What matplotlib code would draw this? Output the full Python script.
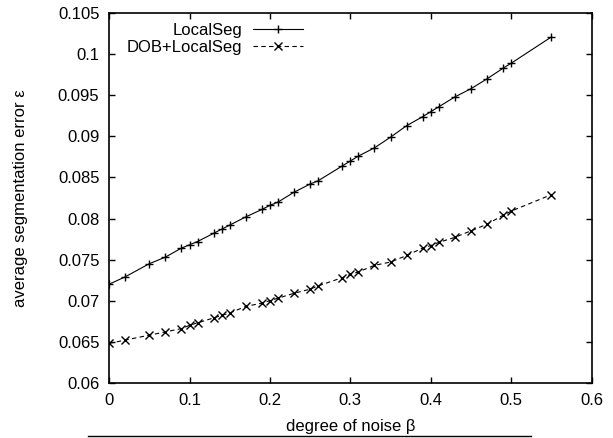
import matplotlib
matplotlib.use("Agg")
import matplotlib.pyplot as plt
from matplotlib.lines import Line2D

plt.rcParams["font.family"] = ["Liberation Sans", "DejaVu Sans"]

beta = [0.0, 0.02, 0.05, 0.07, 0.09, 0.10, 0.11, 0.13, 0.14, 0.15, 0.17,
        0.19, 0.20, 0.21, 0.23, 0.25, 0.26, 0.29, 0.30, 0.31, 0.33, 0.35,
        0.37, 0.39, 0.40, 0.41, 0.43, 0.45, 0.47, 0.49, 0.50, 0.55]
local_seg = [0.0720, 0.0729, 0.0745, 0.0753, 0.0764, 0.0768, 0.0772, 0.0782,
             0.0787, 0.0792, 0.0802, 0.0811, 0.0816, 0.0820, 0.0832, 0.0842,
             0.0846, 0.0864, 0.0870, 0.0876, 0.0886, 0.0899, 0.0913, 0.0924,
             0.0930, 0.0936, 0.0948, 0.0958, 0.0970, 0.0983, 0.0989, 0.1021]
dob_local_seg = [0.0648, 0.0652, 0.0658, 0.0662, 0.0666, 0.0670, 0.0673,
                 0.0679, 0.0682, 0.0685, 0.0693, 0.0697, 0.0700, 0.0703,
                 0.0709, 0.0714, 0.0718, 0.0728, 0.0732, 0.0735, 0.0743,
                 0.0747, 0.0755, 0.0764, 0.0767, 0.0771, 0.0777, 0.0785,
                 0.0793, 0.0804, 0.0809, 0.0829]

xticks = [0, 0.1, 0.2, 0.3, 0.4, 0.5, 0.6]
xtick_labels = ["0", "0.1", "0.2", "0.3", "0.4", "0.5", "0.6"]
yticks = [0.06, 0.065, 0.07, 0.075, 0.08, 0.085, 0.09, 0.095, 0.1, 0.105]
ytick_labels = ["0.06", "0.065", "0.07", "0.075", "0.08", "0.085", "0.09",
                "0.095", "0.1", "0.105"]

FS = 12

fig = plt.figure(figsize=(6.13, 4.38), dpi=100)
ax = fig.add_axes([0.178, 0.126, 0.787, 0.844])

ax.plot(beta, local_seg, color="black", lw=0.8, marker="+", ms=5.5, mew=1.0,
        label="LocalSeg")
ax.plot(beta, dob_local_seg, color="black", lw=0.8, ls=(0, (4, 3)),
        marker="x", ms=5.8, mew=1.0, label="DOB+LocalSeg")

ax.set_xlim(0, 0.6)
ax.set_ylim(0.06, 0.105)
ax.set_xticks(xticks)
ax.set_xticklabels(xtick_labels)
ax.set_yticks(yticks)
ax.set_yticklabels(ytick_labels)
ax.tick_params(direction="in", top=True, right=True, length=4.5, width=1,
               labelsize=FS, pad=7)
for s in ax.spines.values():
    s.set_linewidth(1.2)

ax.set_xlabel("degree of noise \u03b2", fontsize=FS)
ax.set_ylabel("average segmentation error \u03b5", fontsize=FS)
ax.xaxis.set_label_coords(0.5, -0.097)
ax.yaxis.set_label_coords(-0.168, 0.5)

ax.legend(loc="upper right", bbox_to_anchor=(303 / 613, 1 - 23 / 438),
          bbox_transform=fig.transFigure, frameon=False, markerfirst=False,
          fontsize=FS, handlelength=3.0, labelspacing=0.12, borderpad=0,
          borderaxespad=0, handletextpad=0.65)

# rule under the x label
fig.add_artist(Line2D([88 / 613, 531 / 613], [1 - 436 / 438, 1 - 436 / 438],
                      color="black", lw=1.0))

fig.savefig("out.png", dpi=100)
